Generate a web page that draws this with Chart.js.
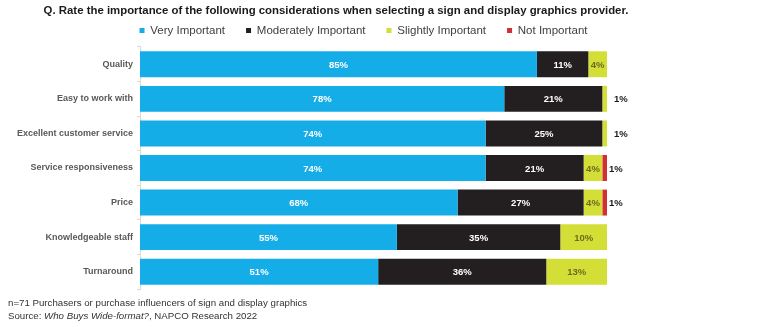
<!DOCTYPE html>
<html>
<head>
<meta charset="utf-8">
<script src="https://cdn.jsdelivr.net/npm/chart.js@4"></script>
<style>
  body { margin: 0; background: #fff; }
  #wrap { position: relative; width: 759px; height: 327px; }
  #note { position: absolute; left: 8px; top: 297px; font: 9.7px "Liberation Sans", Arial, sans-serif; color: #333; line-height: 12.5px; }
</style>
</head>
<body>
<div id="wrap">
  <canvas id="chart" width="759" height="327"></canvas>
  <div id="note">n=71 Purchasers or purchase influencers of sign and display graphics<br>Source: <i>Who Buys Wide-format?</i>, NAPCO Research 2022</div>
</div>
<script>
var categories = ['Quality', 'Easy to work with', 'Excellent customer service', 'Service responsiveness', 'Price', 'Knowledgeable staff', 'Turnaround'];
var veryImportant = [85, 78, 74, 74, 68, 55, 51];
var moderatelyImportant = [11, 21, 25, 21, 27, 35, 36];
var slightlyImportant = [4, 1, 1, 4, 4, 10, 13];
var notImportant = [0, 0, 0, 1, 1, 0, 0];

// colours for segment labels
var labelColors = ['#ffffff', '#ffffff', '#6e6b1f', '#1a1a1a'];

// draws the % labels, small ones go outside the bar
var barLabels = {
    id: 'barLabels',
    afterLayout: function (chart) {
        // title and legend are not centred over the bars in the original
        chart.titleBlock.left = 0;
        chart.titleBlock.right = 672;
        chart.legend.left = 0;
        chart.legend.right = 727;
        chart.legend.top -= 14;
    },
    afterDatasetsDraw: function (chart) {
        var ctx = chart.ctx;
        ctx.save();
        ctx.font = 'bold 9.5px "Liberation Sans", Arial, sans-serif';
        ctx.textBaseline = 'middle';
        chart.data.datasets.forEach(function (ds, di) {
            var meta = chart.getDatasetMeta(di);
            meta.data.forEach(function (bar, i) {
                var v = ds.data[i];
                if (!v) return;
                if (v >= 3) {
                    ctx.fillStyle = labelColors[di];
                    ctx.textAlign = 'center';
                    ctx.fillText(v + '%', (bar.x + bar.base) / 2, bar.y + 1);
                } else {
                    ctx.fillStyle = '#1a1a1a';
                    ctx.textAlign = 'left';
                    var off = di == 2 ? 7 : 2;
                    ctx.fillText(v + '%', bar.x + off, bar.y + 1);
                }
            });
        });
        ctx.restore();
    }
};

var ctx = document.getElementById('chart').getContext('2d');
var myChart = new Chart(ctx, {
    type: 'bar',
    data: {
        labels: categories,
        datasets: [
            { label: 'Very Important', data: veryImportant, backgroundColor: '#14ADE8' },
            { label: 'Moderately Important', data: moderatelyImportant, backgroundColor: '#231F20' },
            { label: 'Slightly Important', data: slightlyImportant, backgroundColor: '#D3DE36' },
            { label: 'Not Important', data: notImportant, backgroundColor: '#D12F35' }
        ]
    },
    options: {
        indexAxis: 'y',
        responsive: false,
        animation: false,
        barPercentage: 0.75,
        categoryPercentage: 1,
        layout: { padding: { left: 0, right: 152, top: 0, bottom: 38 } },
        scales: {
            x: { stacked: true, display: false, min: 0, max: 100 },
            y: {
                stacked: true,
                afterFit: function (scale) { scale.width = 140; },
                grid: { display: true, drawOnChartArea: false, tickLength: 3, color: '#d9d9d9', offset: true },
                border: { display: true, color: '#d9d9d9' },
                ticks: {
                    color: '#595959',
                    padding: 4,
                    font: { family: '"Liberation Sans", Arial, sans-serif', size: 9, weight: 'bold' }
                }
            }
        },
        plugins: {
            title: {
                display: true,
                text: 'Q. Rate the importance of the following considerations when selecting a sign and display graphics provider.',
                color: '#1a1a1a',
                padding: { top: 4, bottom: 0 },
                font: { family: '"Liberation Sans", Arial, sans-serif', size: 11.4, weight: 'bold' }
            },
            legend: {
                display: true,
                labels: {
                    color: '#404040',
                    boxWidth: 5,
                    boxHeight: 5,
                    padding: 21,
                    font: { family: '"Liberation Sans Narrow", "Arial Narrow", sans-serif', size: 11.5 }
                }
            },
            tooltip: { enabled: false }
        }
    },
    plugins: [barLabels]
});

// legend box takes less room than chart.js gives it
var legendFit = myChart.legend.fit;
myChart.legend.fit = function () {
    legendFit.call(this);
    this.height = 29.3;
};
myChart.update();
</script>
</body>
</html>
